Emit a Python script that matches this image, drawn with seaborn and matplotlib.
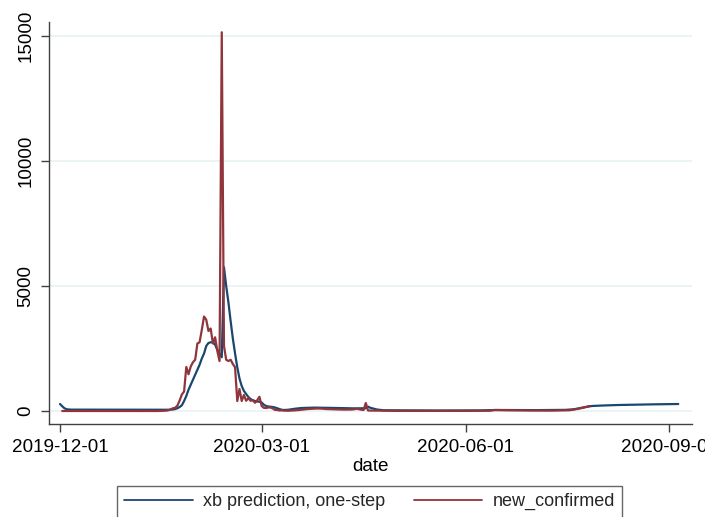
import numpy as np
import pandas as pd
import seaborn as sns
import matplotlib.pyplot as plt

sns.set_theme(style="white")
plt.rcParams['font.family'] = ['Liberation Sans', 'DejaVu Sans']

# one-step prediction (blue)
pred_dates = [
    "2019-12-01", "2019-12-02", "2019-12-03", "2019-12-04", "2019-12-06", "2020-01-19",
    "2020-01-20", "2020-01-21", "2020-01-22", "2020-01-23", "2020-01-24", "2020-01-25",
    "2020-01-26", "2020-01-27", "2020-01-28", "2020-01-29", "2020-01-30", "2020-01-31",
    "2020-02-01", "2020-02-02", "2020-02-03", "2020-02-04", "2020-02-05", "2020-02-06",
    "2020-02-07", "2020-02-08", "2020-02-09", "2020-02-10", "2020-02-11", "2020-02-12",
    "2020-02-13", "2020-02-14", "2020-02-15", "2020-02-16", "2020-02-17", "2020-02-18",
    "2020-02-19", "2020-02-20", "2020-02-21", "2020-02-22", "2020-02-23", "2020-02-24",
    "2020-02-25", "2020-02-26", "2020-02-27", "2020-02-28", "2020-02-29", "2020-03-01",
    "2020-03-02", "2020-03-03", "2020-03-04", "2020-03-05", "2020-03-06", "2020-03-07",
    "2020-03-08", "2020-03-09", "2020-03-10", "2020-03-11", "2020-03-13", "2020-03-16",
    "2020-03-19", "2020-03-25", "2020-04-04", "2020-04-12", "2020-04-17", "2020-04-18",
    "2020-04-19", "2020-04-22", "2020-04-25", "2020-05-19", "2020-06-08", "2020-06-15",
    "2020-07-03", "2020-07-16", "2020-07-20", "2020-07-24", "2020-07-28", "2020-08-02",
    "2020-08-09", "2020-08-24", "2020-09-05",
]
pred_values = [
    280, 190, 110, 70, 55, 50,
    55, 60, 80, 110, 160, 230,
    400, 600, 850, 1050, 1250, 1450,
    1650, 1850, 2100, 2300, 2600, 2720,
    2750, 2740, 2650, 2450, 2300, 2150,
    5750, 5000, 4350, 3600, 2900, 2300,
    1750, 1300, 1000, 800, 680, 560,
    480, 430, 400, 380, 370, 340,
    250, 200, 180, 170, 160, 140,
    110, 80, 50, 40, 50, 90,
    120, 135, 120, 105, 110, 175,
    130, 60, 30, 20, 25, 40,
    35, 45, 70, 140, 200, 220,
    240, 265, 280,
]

# observed daily new confirmed (red)
conf_dates = [
    "2019-12-02", "2020-01-14", "2020-01-16", "2020-01-18", "2020-01-19", "2020-01-20",
    "2020-01-21", "2020-01-22", "2020-01-23", "2020-01-24", "2020-01-25", "2020-01-26",
    "2020-01-27", "2020-01-28", "2020-01-29", "2020-01-30", "2020-01-31", "2020-02-01",
    "2020-02-02", "2020-02-03", "2020-02-04", "2020-02-05", "2020-02-06", "2020-02-07",
    "2020-02-08", "2020-02-09", "2020-02-10", "2020-02-11", "2020-02-12", "2020-02-13",
    "2020-02-14", "2020-02-15", "2020-02-16", "2020-02-17", "2020-02-18", "2020-02-19",
    "2020-02-20", "2020-02-21", "2020-02-22", "2020-02-23", "2020-02-24", "2020-02-25",
    "2020-02-26", "2020-02-27", "2020-02-28", "2020-02-29", "2020-03-01", "2020-03-02",
    "2020-03-03", "2020-03-04", "2020-03-05", "2020-03-06", "2020-03-07", "2020-03-08",
    "2020-03-09", "2020-03-10", "2020-03-11", "2020-03-13", "2020-03-16", "2020-03-18",
    "2020-03-20", "2020-03-22", "2020-03-24", "2020-03-26", "2020-03-28", "2020-03-30",
    "2020-04-02", "2020-04-05", "2020-04-08", "2020-04-11", "2020-04-13", "2020-04-15",
    "2020-04-16", "2020-04-17", "2020-04-18", "2020-04-22", "2020-05-01", "2020-06-01",
    "2020-06-12", "2020-06-14", "2020-06-20", "2020-06-30", "2020-07-10", "2020-07-18",
    "2020-07-20", "2020-07-22", "2020-07-24", "2020-07-27",
]
conf_values = [
    0, 0, 5, 15, 30, 70,
    110, 130, 220, 420, 660, 780,
    1760, 1470, 1780, 1950, 2050, 2700,
    2750, 3250, 3780, 3650, 3200, 3300,
    2700, 2950, 2400, 2000, 15150, 2600,
    2050, 2000, 2050, 1880, 1750, 400,
    880, 400, 640, 410, 510, 410,
    430, 330, 430, 570, 200, 125,
    120, 140, 140, 100, 45, 40,
    20, 25, 15, 10, 25, 40,
    60, 80, 90, 100, 95, 80,
    70, 60, 55, 60, 90, 50,
    40, 320, 20, 15, 5, 5,
    10, 40, 30, 20, 15, 30,
    60, 90, 130, 200,
]

series_names = ["xb prediction, one-step", "new_confirmed"]
series_colors = ["#1a476f", "#90353b"]
xtick_dates = ["2019-12-01", "2020-03-01", "2020-06-01", "2020-09-01"]
ytick_values = [0, 5000, 10000, 15000]

df = pd.concat([
    pd.DataFrame({"date": pd.to_datetime(pred_dates), "value": pred_values, "series": series_names[0]}),
    pd.DataFrame({"date": pd.to_datetime(conf_dates), "value": conf_values, "series": series_names[1]}),
], ignore_index=True)

fig = plt.figure(figsize=(7.05, 5.17), dpi=100)
ax = fig.add_axes([49 / 705, 1 - 424 / 517, (692 - 49) / 705, (424 - 22) / 517])

sns.lineplot(data=df, x="date", y="value", hue="series", hue_order=series_names,
             palette=series_colors, linewidth=1.6, estimator=None, ax=ax)

start = pd.Timestamp("2019-12-01")
ax.set_xlim(start - pd.Timedelta(days=4.96), start + pd.Timedelta(days=285.2))
ax.set_ylim(-520, 15560)

ax.set_xticks(pd.to_datetime(xtick_dates))
ax.set_xticklabels(xtick_dates)
ax.set_yticks(ytick_values)
ax.set_yticklabels([str(v) for v in ytick_values], rotation=90, va="center")

# stata-like look
ax.yaxis.grid(True, color="#eaf2f3", linewidth=1.3)
ax.xaxis.grid(False)
ax.set_axisbelow(True)
for side in ["top", "right"]:
    ax.spines[side].set_visible(False)
for side in ["left", "bottom"]:
    ax.spines[side].set_color("#404040")
    ax.spines[side].set_linewidth(1.0)
ax.tick_params(direction="out", length=5.5, width=1, color="#404040", labelsize=13.6,
               pad=5, left=True, bottom=True, labelcolor="black")
ax.set_xlabel("date", fontsize=13.6, labelpad=1.5, color="black")
ax.set_ylabel("")

handles, labels = ax.get_legend_handles_labels()
ax.get_legend().remove()
leg = fig.legend(handles, labels, loc="upper center", bbox_to_anchor=(369.5 / 705, 1 - 486 / 517),
                 ncol=2, frameon=True, fancybox=False, edgecolor="#404040", fontsize=13,
                 handlelength=3.8, handletextpad=0.55, columnspacing=1.6,
                 borderaxespad=0, borderpad=0.4)
leg.get_frame().set_linewidth(1.0)
for h in leg.get_lines():
    h.set_linewidth(1.3)

fig.savefig("out.png", dpi=100)
